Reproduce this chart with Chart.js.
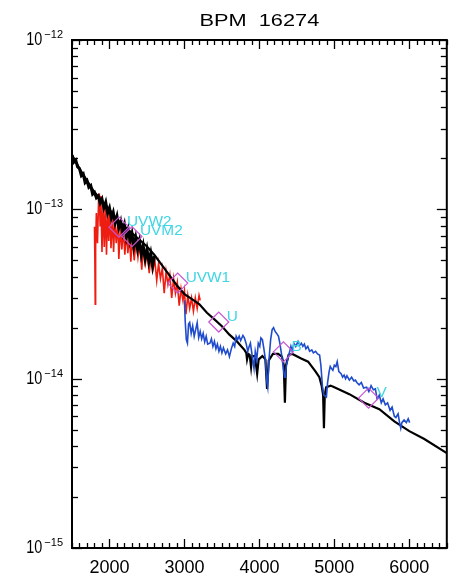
<!DOCTYPE html>
<html>
<head>
<meta charset="utf-8">
<title>BPM 16274</title>
<script src="https://cdn.jsdelivr.net/npm/chart.js@4.4.1/dist/chart.umd.min.js"></script>
<style>
  html, body { margin: 0; padding: 0; background: #fff; }
  #wrap { width: 458px; height: 579px; position: relative; }
</style>
</head>
<body>
<div id="wrap"><canvas id="sed"></canvas></div>
<script>
/* -- Data (flux in units of 1e-14 erg/s/cm2/A) ------------------------- */
const TITLE = "BPM  16274";

const X_MIN = 1500, X_MAX = 6500;
const xTicks = [2000, 3000, 4000, 5000, 6000];
const yDecades = [-15, -14, -13, -12];

// model atmosphere (black)
const modelWave = [1500, 1600, 1700, 1800, 1900, 2000, 2100, 2200, 2300, 2400, 2500, 2600, 2700, 2800,
    2900, 3000, 3100, 3200, 3300, 3400, 3500, 3600, 3700, 3760, 3800, 3825, 3835, 3850, 3870, 3889,
    3905, 3940, 3970, 3990, 4040, 4080, 4102, 4125, 4180, 4250, 4300, 4325, 4340, 4355, 4390, 4440,
    4550, 4650, 4750, 4800, 4830, 4850, 4861, 4872, 4890, 4950, 5000, 5200, 5400, 5600, 5800, 6000,
    6200, 6500];
const modelFlux = [20.9, 17.4, 14.8, 12.6, 11.2, 10.0, 8.71, 7.94, 7.24, 6.61, 6.03, 5.37, 4.68, 4.07,
    3.55, 3.16, 2.95, 2.75, 2.45, 2.24, 2.04, 1.82, 1.66, 1.55, 1.48, 1.42, 1.30, 1.40, 1.38, 1.17,
    1.36, 1.36, 1.07, 1.30, 1.36, 1.30, 0.87, 1.28, 1.40, 1.40, 1.35, 1.20, 0.72, 1.20, 1.38, 1.40,
    1.32, 1.26, 1.10, 1.02, 0.91, 0.80, 0.51, 0.80, 0.89, 0.91, 0.89, 0.81, 0.72, 0.66, 0.56, 0.49,
    0.44, 0.363];

// far-UV spectrum (black, noisy)
const uvWave = [1500, 1525, 1550, 1575, 1600, 1625, 1650, 1675, 1700, 1725, 1750, 1775, 1800, 1825,
    1850, 1875, 1900, 1925, 1950, 1975, 2000, 2025, 2050, 2075, 2100, 2125, 2150, 2175, 2200, 2225,
    2250, 2275, 2300, 2325, 2350, 2375, 2400, 2425, 2450, 2475, 2500, 2525, 2550, 2575, 2600];
const uvFlux = [20.9, 19.0, 19.5, 17.8, 17.4, 15.8, 16.2, 14.4, 14.8, 13.5, 13.8, 12.3, 12.6, 11.7,
    12.0, 10.9, 11.5, 10.2, 11.0, 9.5, 10.2, 8.9, 9.6, 8.3, 9.1, 7.8, 8.5, 7.3, 8.1, 6.8,
    7.6, 6.5, 7.2, 6.0, 6.8, 5.8, 6.5, 5.4, 6.1, 5.1, 5.8, 4.9, 5.5, 4.6, 5.3];

// UV grism spectrum (red)
const redWave = [1800, 1805, 1810, 1815, 1825, 1840, 1855, 1865, 1875, 1885, 1900, 1915, 1930, 1945,
    1960, 1975, 1990, 2005, 2020, 2040, 2055, 2070, 2090, 2110, 2125, 2145, 2165, 2185, 2205, 2225,
    2245, 2265, 2285, 2305, 2330, 2355, 2380, 2405, 2430, 2455, 2480, 2505, 2530, 2555, 2580, 2605,
    2630, 2655, 2680, 2705, 2730, 2755, 2780, 2805, 2830, 2855, 2880, 2905, 2930, 2955, 2980, 3000,
    3020, 3045, 3070, 3095, 3120, 3145, 3170, 3195, 3210];
const redFlux = [7.9, 5.0, 2.75, 6.0, 9.5, 6.3, 11.5, 12.4, 8.0, 12.0, 5.6, 11.0, 6.0, 10.5,
    5.4, 9.8, 6.5, 10.2, 5.9, 8.9, 5.6, 8.6, 6.3, 8.4, 5.1, 7.8, 5.8, 7.6, 5.4, 7.4,
    5.5, 7.0, 4.9, 6.9, 5.0, 6.6, 5.2, 6.3, 4.4, 6.0, 4.8, 5.7, 4.2, 5.4, 4.4, 5.0,
    3.8, 4.8, 3.9, 4.5, 3.2, 4.3, 3.6, 4.1, 3.0, 3.9, 3.2, 3.7, 2.7, 3.4, 2.9, 3.3,
    2.4, 3.1, 2.6, 3.0, 2.5, 3.0, 2.6, 3.1, 2.9];

// optical spectrum (blue)
const blueWave = [3000, 3010, 3025, 3040, 3055, 3070, 3090, 3110, 3130, 3150, 3170, 3190, 3210, 3230,
    3250, 3270, 3290, 3310, 3340, 3360, 3380, 3400, 3420, 3440, 3460, 3480, 3500, 3520, 3550, 3575,
    3600, 3625, 3650, 3670, 3690, 3710, 3730, 3750, 3780, 3800, 3825, 3845, 3863, 3880, 3900, 3928,
    3945, 3965, 3985, 4005, 4020, 4040, 4060, 4080, 4100, 4111, 4125, 4150, 4170, 4189, 4210, 4230,
    4255, 4275, 4300, 4320, 4335, 4346, 4360, 4385, 4405, 4420, 4437, 4460, 4485, 4516, 4540, 4560,
    4580, 4600, 4620, 4645, 4670, 4699, 4720, 4750, 4775, 4803, 4820, 4842, 4860, 4894, 4910, 4930,
    4945, 4960, 4980, 5000, 5020, 5038, 5060, 5090, 5110, 5130, 5150, 5168, 5200, 5230, 5260, 5280,
    5300, 5330, 5360, 5390, 5430, 5460, 5490, 5520, 5547, 5570, 5600, 5626, 5650, 5680, 5710, 5743,
    5770, 5800, 5821, 5850, 5870, 5886, 5900, 5930, 5960, 5985, 6004];
const blueFlux = [2.9, 2.2, 1.7, 1.62, 2.1, 2.15, 1.85, 2.05, 1.78, 1.95, 2.14, 1.75, 1.9, 1.72,
    1.85, 1.65, 1.78, 1.6, 1.62, 1.72, 1.55, 1.66, 1.5, 1.6, 1.45, 1.55, 1.42, 1.52, 1.4, 1.48,
    1.35, 1.5, 1.62, 1.55, 1.78, 1.7, 1.78, 1.68, 1.8, 1.74, 1.6, 1.45, 1.55, 1.62, 1.4, 1.15,
    1.45, 1.3, 1.62, 1.55, 1.74, 1.7, 1.5, 1.3, 0.95, 0.89, 1.25, 1.7, 1.95, 2.0, 1.9, 1.85,
    1.78, 1.6, 1.35, 1.15, 1.02, 1.02, 1.2, 1.35, 1.45, 1.55, 1.45, 1.62, 1.55, 1.66, 1.58, 1.62,
    1.55, 1.6, 1.5, 1.55, 1.45, 1.48, 1.42, 1.45, 1.4, 1.38, 1.2, 0.89, 0.8, 0.78, 0.95, 1.1,
    1.18, 1.15, 1.12, 1.2, 1.18, 1.26, 1.1, 1.07, 1.02, 1.05, 1.0, 1.04, 0.98, 1.02, 0.97, 0.98,
    0.95, 0.92, 0.95, 0.88, 0.89, 0.84, 0.91, 0.86, 0.87, 0.76, 0.8, 0.72, 0.76, 0.7, 0.72, 0.65,
    0.68, 0.6, 0.59, 0.62, 0.55, 0.51, 0.55, 0.57, 0.55, 0.58, 0.55];

// photometry (magenta diamonds + cyan labels)
const filterNames = ["UVW2", "UVM2", "UVW1", "U", "B", "V"];
const filterWave = [2127, 2300, 2910, 3458, 4320, 5456];
const filterFlux = [7.85, 6.9, 3.67, 2.16, 1.44, 0.767];

/* -- Helpers ------------------------------------------------------------ */
const UNIT = 1e-14;
const toPoints = (wave, flux) => wave.map((w, i) => ({ x: w, y: flux[i] * UNIT }));

const FONT = "'Liberation Sans', Arial, 'DejaVu Sans', sans-serif";

function stretchText(ctx, str, x, y, size, sx, align) {
    ctx.save();
    ctx.font = `${size}px ${FONT}`;
    ctx.textBaseline = "middle";
    ctx.textAlign = "left";
    const w = ctx.measureText(str).width * sx;
    const left = align === "center" ? x - w / 2 : align === "right" ? x - w : x;
    ctx.translate(left, y);
    ctx.scale(sx, 1);
    ctx.fillText(str, 0, 0);
    ctx.restore();
    return w;
}

function tick(ctx, x0, y0, x1, y1) {
    ctx.beginPath();
    ctx.moveTo(x0, y0);
    ctx.lineTo(x1, y1);
    ctx.stroke();
}

/* -- IDL-style frame, inward ticks, labels -------------------------------- */
const idlFrame = {
    id: "idlFrame",
    afterDraw(chart) {
        const { ctx, chartArea: a, scales } = chart;
        const xs = scales.x, ys = scales.y;
        ctx.save();
        ctx.strokeStyle = "#000000";
        ctx.fillStyle = "#000000";
        ctx.lineWidth = 1.3;
        ctx.lineCap = "butt";

        // x ticks every 100 A, major every 1000 A
        for (let w = X_MIN; w <= X_MAX; w += 100) {
            const px = Math.round(xs.getPixelForValue(w)) + 0.5;
            const len = w % 1000 === 0 ? 9 : 5;
            tick(ctx, px, a.bottom, px, a.bottom - len);
            tick(ctx, px, a.top, px, a.top + len);
        }
        // y log ticks
        yDecades.forEach(e => {
            for (let m = 1; m <= 9; m++) {
                if (e === -12 && m > 1) break;
                const py = Math.round(ys.getPixelForValue(m * Math.pow(10, e))) + 0.5;
                const len = m === 1 ? 10 : 6;
                tick(ctx, a.left, py, a.left + len, py);
                tick(ctx, a.right, py, a.right - len, py);
            }
        });

        ctx.lineWidth = 2;
        ctx.strokeRect(a.left, a.top, a.right - a.left, a.bottom - a.top);

        // x labels
        xTicks.forEach(w => {
            stretchText(ctx, String(w), xs.getPixelForValue(w), a.bottom + 20, 18, 1.0, "center");
        });

        // y labels: 10 with superscript exponent
        yDecades.forEach(e => {
            const py = ys.getPixelForValue(Math.pow(10, e));
            const supW = stretchText(ctx, "\u2212" + Math.abs(e), a.left - 9, py - 5, 11, 1.0, "right");
            stretchText(ctx, "10", a.left - 11 - supW, py, 18, 0.8, "right");
        });

        // title over the plot area
        stretchText(ctx, TITLE, (a.left + a.right) / 2, 21, 17, 1.28, "center");

        // filter labels beside the diamonds
        ctx.fillStyle = "#3fd6e4";
        filterNames.forEach((name, i) => {
            const px = xs.getPixelForValue(filterWave[i]);
            const py = ys.getPixelForValue(filterFlux[i] * UNIT);
            stretchText(ctx, name, px + 8, py - 5, 14, 1.1, "left");
        });
        ctx.restore();
    },
};

/* -- Chart ---------------------------------------------------------------- */
const lineSet = (label, points, color, width, order) => ({
    label,
    data: points,
    borderColor: color,
    borderWidth: width,
    pointRadius: 0,
    tension: 0,
    fill: false,
    order,
});

new Chart(document.getElementById("sed"), {
    type: "line",
    data: {
        datasets: [
            {
                label: "photometry",
                data: toPoints(filterWave, filterFlux),
                showLine: false,
                pointStyle: "rectRot",
                pointRadius: 10,
                pointBorderWidth: 1.2,
                pointBorderColor: "#c855d2",
                pointBackgroundColor: "rgba(0,0,0,0)",
                order: 0,
            },
            lineSet("optical", toPoints(blueWave, blueFlux), "#1f4ccc", 1.6, 1),
            lineSet("model", toPoints(modelWave, modelFlux), "#000000", 2.2, 2),
            lineSet("far-UV", toPoints(uvWave, uvFlux), "#000000", 3, 3),
            lineSet("UV grism", toPoints(redWave, redFlux), "#ee1d12", 1.6, 4),
        ],
    },
    options: {
        responsive: true,
        maintainAspectRatio: false,
        animation: false,
        layout: { padding: { left: 72, right: 3, top: 40, bottom: 31 } },
        scales: {
            x: { type: "linear", min: X_MIN, max: X_MAX, display: false },
            y: { type: "logarithmic", min: 1e-15, max: 1e-12, display: false },
        },
        plugins: {
            legend: { display: false },
            tooltip: { enabled: false },
            title: { display: false },
        },
    },
    plugins: [idlFrame],
});
</script>
</body>
</html>
